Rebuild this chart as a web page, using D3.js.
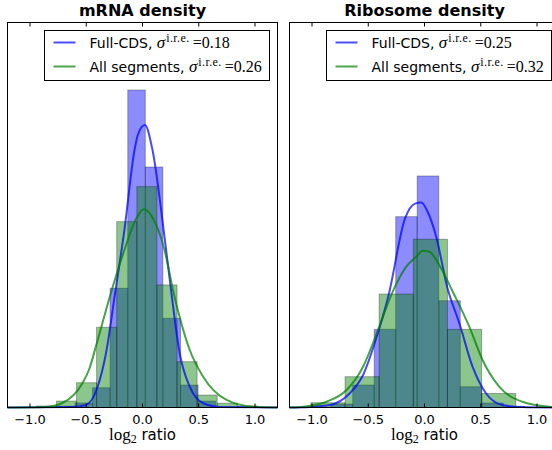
<!DOCTYPE html>
<html>
<head>
<meta charset="utf-8">
<script src="https://cdn.jsdelivr.net/npm/d3@7"></script>
<style>
body { margin: 0; background: #fff; }
</style>
</head>
<body>
<div id="chart"></div>
<script>
// values (x in log2 ratio, y in density)
var xTicks = [-1.0, -0.5, 0.0, 0.5, 1.0];
var titles = ["mRNA density", "Ribosome density"];
var seriesNames = ["Full-CDS", "All segments"];

// mRNA panel
var mrnaCdsEdges = [-0.756, -0.600, -0.444, -0.288, -0.131, 0.025, 0.181, 0.338, 0.494, 0.650];
var mrnaCdsDens  = [0.010, 0.035, 0.154, 0.929, 2.474, 1.874, 0.695, 0.175, 0.050];
var mrnaSegEdges = [-0.943, -0.765, -0.586, -0.408, -0.229, -0.050, 0.128, 0.307, 0.485, 0.664, 0.843, 1.021];
var mrnaSegDens  = [0.012, 0.050, 0.193, 0.625, 1.448, 1.721, 0.955, 0.357, 0.097, 0.033, 0.012];
var mrnaCdsKdeX = [-1.2, -0.625, -0.503, -0.399, -0.324, -0.246, -0.161, -0.071, -0.042, 0.021, 0.089, 0.188, 0.259, 0.330, 0.420, 0.536, 0.688, 1.2];
var mrnaCdsKdeY = [0, 0.004, 0.020, 0.162, 0.425, 0.877, 1.383, 2.006, 2.123, 2.201, 2.006, 1.383, 0.877, 0.425, 0.162, 0.035, 0.004, 0];
var mrnaSegKdeX = [-1.2, -0.860, -0.712, -0.533, -0.473, -0.413, -0.286, -0.161, -0.047, 0.012, 0.092, 0.196, 0.277, 0.420, 0.539, 0.747, 0.982, 1.2];
var mrnaSegKdeY = [0, 0.004, 0.035, 0.191, 0.300, 0.480, 0.877, 1.227, 1.486, 1.544, 1.474, 1.227, 0.892, 0.448, 0.240, 0.059, 0.006, 0];
var mrnaSigma = ["0.18", "0.26"];

// ribosome panel
var riboCdsEdges = [-1.020, -0.829, -0.638, -0.447, -0.256, -0.065, 0.127, 0.318, 0.509, 0.700, 0.891];
var riboCdsDens  = [0.004, 0.027, 0.175, 0.609, 1.487, 1.804, 0.832, 0.162, 0.035, 0.008];
var riboSegEdges = [-1.010, -0.706, -0.403, -0.099, 0.204, 0.508, 0.811];
var riboSegDens  = [0.037, 0.240, 0.884, 1.311, 0.609, 0.109];
var riboCdsKdeX = [-1.2, -1.018, -0.841, -0.664, -0.546, -0.434, -0.319, -0.173, -0.084, -0.029, 0.029, 0.104, 0.204, 0.310, 0.427, 0.546, 0.693, 0.867, 1.2];
var riboCdsKdeY = [0, 0.004, 0.019, 0.111, 0.253, 0.526, 0.877, 1.473, 1.589, 1.597, 1.523, 1.330, 0.931, 0.656, 0.318, 0.111, 0.019, 0.004, 0];
var riboSegKdeX = [-1.2, -1.077, -0.870, -0.693, -0.546, -0.413, -0.292, -0.162, -0.073, -0.015, 0.044, 0.146, 0.257, 0.398, 0.516, 0.664, 0.870, 1.106, 1.2];
var riboSegKdeY = [0, 0.006, 0.045, 0.136, 0.318, 0.604, 0.884, 1.097, 1.175, 1.222, 1.214, 1.087, 0.892, 0.630, 0.370, 0.162, 0.045, 0.006, 0];
var riboSigma = ["0.25", "0.32"];

var panels = [
  {title: titles[0], cds: [mrnaCdsEdges, mrnaCdsDens], seg: [mrnaSegEdges, mrnaSegDens],
   cdsKde: [mrnaCdsKdeX, mrnaCdsKdeY], segKde: [mrnaSegKdeX, mrnaSegKdeY], sigma: mrnaSigma},
  {title: titles[1], cds: [riboCdsEdges, riboCdsDens], seg: [riboSegEdges, riboSegDens],
   cdsKde: [riboCdsKdeX, riboCdsKdeY], segKde: [riboSegKdeX, riboSegKdeY], sigma: riboSigma}
];

var colors = ["#0000ff", "#008000"];
var sans = "'DejaVu Sans', sans-serif";
var serif = "'Liberation Serif', serif";

// layout
var panelW = 270, panelH = 385, marginTop = 22;
var panelLeft = [7, 289];

var svg = d3.select("#chart")
  .append("svg")
  .attr("width", 552)
  .attr("height", 450);

var x = d3.scaleLinear().domain([-1.2, 1.2]).range([0.5, panelW + 0.5]);
var y = d3.scaleLinear().domain([0, 3]).range([panelH + 0.5, 0.5]);

function drawHist(g, edges, dens, color) {
  g.append("g")
    .selectAll("rect")
    .data(dens)
    .enter()
    .append("rect")
    .attr("x", function(d, i) { return x(edges[i]); })
    .attr("width", function(d, i) { return x(edges[i + 1]) - x(edges[i]); })
    .attr("y", function(d) { return y(d); })
    .attr("height", function(d) { return y(0) - y(d); })
    .attr("fill", color)
    .attr("fill-opacity", 0.45)
    .attr("stroke", "#000")
    .attr("stroke-opacity", 0.3)
    .attr("stroke-width", 1);
}

function drawKde(g, xs, ys, color) {
  var pts = xs.map(function(v, i) { return [v, ys[i]]; });
  g.append("path")
    .datum(pts)
    .attr("fill", "none")
    .attr("stroke", color)
    .attr("stroke-opacity", 0.72)
    .attr("stroke-width", 2)
    .attr("d", d3.line()
      .curve(d3.curveMonotoneX)
      .x(function(d) { return x(d[0]); })
      .y(function(d) { return y(d[1]); }));
}

panels.forEach(function(p, k) {
  var g = svg.append("g")
    .attr("transform", "translate(" + panelLeft[k] + "," + marginTop + ")");

  drawHist(g, p.cds[0], p.cds[1], colors[0]);
  drawHist(g, p.seg[0], p.seg[1], colors[1]);
  drawKde(g, p.cdsKde[0], p.cdsKde[1], colors[0]);
  drawKde(g, p.segKde[0], p.segKde[1], colors[1]);

  // ticks, inward on top and bottom
  var bottomAxis = g.append("g")
    .attr("transform", "translate(0," + (panelH + 0.5) + ")")
    .call(d3.axisBottom(x).tickValues(xTicks).tickSize(-4).tickPadding(7)
      .tickFormat(d3.format(".1f")).offset(0));
  bottomAxis.select(".domain").remove();
  bottomAxis.attr("color", "#000")
    .selectAll("text")
    .style("font-family", sans)
    .style("font-size", "13px");

  var topAxis = g.append("g")
    .attr("transform", "translate(0,0.5)")
    .call(d3.axisTop(x).tickValues(xTicks).tickSize(-4).tickFormat("").offset(0));
  topAxis.select(".domain").remove();
  topAxis.attr("color", "#000");

  // frame
  g.append("rect")
    .attr("x", 0.5).attr("y", 0.5)
    .attr("width", panelW).attr("height", panelH)
    .attr("fill", "none")
    .attr("stroke", "#000");

  // title
  g.append("text")
    .attr("x", panelW / 2 + 0.5)
    .attr("y", -6)
    .attr("text-anchor", "middle")
    .style("font-family", sans)
    .style("font-weight", "bold")
    .style("font-size", "16px")
    .text(p.title);

  // x label: log_2 ratio
  var xl = g.append("text")
    .attr("x", panelW / 2 + 0.5)
    .attr("y", panelH + 33)
    .attr("text-anchor", "middle")
    .style("font-size", "15px");
  xl.append("tspan").style("font-family", serif).style("font-size", "17px").text("log");
  xl.append("tspan").style("font-family", serif).style("font-size", "12px").attr("dy", 3).text("2");
  xl.append("tspan").style("font-family", sans).attr("dy", -3).text(" ratio");

  // legend
  var lg = g.append("g").attr("transform", "translate(37.5,8.5)");
  lg.append("rect")
    .attr("width", 225).attr("height", 50)
    .attr("fill", "#fff")
    .attr("stroke", "#000");

  seriesNames.forEach(function(name, i) {
    var ly = 12 + i * 24;
    lg.append("line")
      .attr("x1", 9).attr("x2", 31)
      .attr("y1", ly).attr("y2", ly)
      .attr("stroke", colors[i])
      .attr("stroke-opacity", 0.7)
      .attr("stroke-width", 2);
    var t = lg.append("text")
      .attr("x", 45)
      .attr("y", ly + 5)
      .style("font-family", sans)
      .style("font-size", "14px");
    t.append("tspan").text(name + ", ");
    t.append("tspan").style("font-family", serif).style("font-style", "italic")
      .style("font-size", "17px").text("σ");
    t.append("tspan").style("font-family", serif).style("font-size", "12px")
      .attr("dy", -6).attr("dx", 1).attr("letter-spacing", 0.4).text("i.r.e.");
    t.append("tspan").style("font-family", serif).style("font-size", "16px")
      .attr("dy", 6).attr("dx", 3).text("=" + p.sigma[i]);
  });
});
</script>
</body>
</html>
